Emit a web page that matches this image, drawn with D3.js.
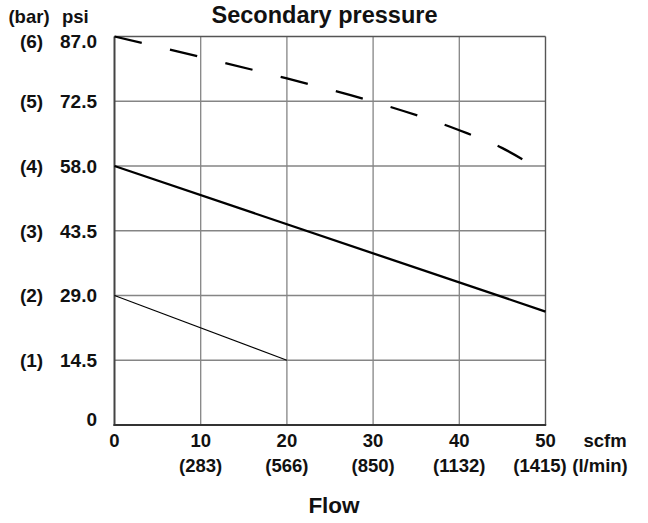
<!DOCTYPE html>
<html>
<head>
<meta charset="utf-8">
<script src="https://cdn.jsdelivr.net/npm/d3@7"></script>
<style>
  html, body { margin: 0; padding: 0; background: #fff; }
  svg { display: block; }
  text { font-family: "Liberation Sans", Arial, Helvetica, sans-serif; font-weight: bold; fill: #111; }
</style>
</head>
<body>
<svg id="chart" width="648" height="523"></svg>
<script>
// Flow axis ticks (scfm) with their l/min equivalents
const flowTicks = [0, 10, 20, 30, 40, 50];
const flowLmin = ["", "(283)", "(566)", "(850)", "(1132)", "(1415)"];

// Pressure axis ticks (psi) with their bar equivalents
const psiTicks = [0, 14.5, 29, 43.5, 58, 72.5, 87];
const barLabels = ["", "(1)", "(2)", "(3)", "(4)", "(5)", "(6)"];

// Secondary pressure curves: flow (scfm) vs pressure (psi)
const highFlow = [0, 10, 20, 30, 40, 45, 47.7];
const highPsi = [87, 82.4, 77.6, 72.4, 66.0, 62.0, 59.1];

const midFlow = [0, 50];
const midPsi = [58, 25.4];

const lowFlow = [0, 20];
const lowPsi = [29, 14.5];

const svg = d3.select("#chart");

const x = d3.scaleLinear().domain([0, 50]).range([114.5, 545.5]);
const y = d3.scaleLinear().domain([0, 87]).range([425, 36.5]);

// Grid
const grid = svg.append("g");
grid.selectAll("line.v").data(flowTicks.slice(1, -1)).join("line")
  .attr("x1", d => x(d)).attr("x2", d => x(d))
  .attr("y1", y(0)).attr("y2", y(87))
  .attr("stroke", "#858585").attr("stroke-width", 1.3);
grid.selectAll("line.h").data(psiTicks.slice(1, -1)).join("line")
  .attr("x1", x(0)).attr("x2", x(50))
  .attr("y1", d => y(d)).attr("y2", d => y(d))
  .attr("stroke", "#858585").attr("stroke-width", 1.3);

// Frame: top and right borders, then the heavier axis lines
svg.append("line").attr("x1", x(0)).attr("x2", x(50)).attr("y1", y(87)).attr("y2", y(87))
  .attr("stroke", "#555").attr("stroke-width", 1.4);
svg.append("line").attr("x1", x(50)).attr("x2", x(50)).attr("y1", y(0)).attr("y2", y(87))
  .attr("stroke", "#555").attr("stroke-width", 1.4);
svg.append("line").attr("x1", x(0)).attr("x2", x(0)).attr("y1", y(0) + 1).attr("y2", y(87))
  .attr("stroke", "#444").attr("stroke-width", 2);
svg.append("line").attr("x1", x(0) - 1).attr("x2", x(50) + 0.7).attr("y1", y(0)).attr("y2", y(0))
  .attr("stroke", "#333").attr("stroke-width", 2);

// Curves
const line = d3.line().x(d => x(d[0])).y(d => y(d[1]));
const zip = (a, b) => a.map((v, i) => [v, b[i]]);

svg.append("path").datum(zip(highFlow, highPsi))
  .attr("d", line.curve(d3.curveMonotoneX))
  .attr("fill", "none").attr("stroke", "#000").attr("stroke-width", 2.3)
  .attr("stroke-dasharray", "28,29");
svg.append("path").datum(zip(midFlow, midPsi))
  .attr("d", line.curve(d3.curveLinear))
  .attr("fill", "none").attr("stroke", "#000").attr("stroke-width", 2.3);
svg.append("path").datum(zip(lowFlow, lowPsi))
  .attr("d", line.curve(d3.curveLinear))
  .attr("fill", "none").attr("stroke", "#000").attr("stroke-width", 1.1);

// Y labels: bar column and psi column
const yLabelY = (d, i) => y(d) + (i === 0 ? -6 : i === psiTicks.length - 1 ? 4.5 : 0);
svg.selectAll("text.psi").data(psiTicks).join("text")
  .attr("x", 97).attr("y", (d, i) => yLabelY(d, i))
  .attr("dy", "0.36em").attr("text-anchor", "end").attr("font-size", 19)
  .text(d => d === 0 ? "0" : d.toFixed(1));
svg.selectAll("text.bar").data(psiTicks).join("text")
  .attr("x", 31.5).attr("y", (d, i) => yLabelY(d, i))
  .attr("dy", "0.36em").attr("text-anchor", "middle").attr("font-size", 19)
  .text((d, i) => barLabels[i]);
svg.append("text").attr("x", 29).attr("y", 23).attr("text-anchor", "middle")
  .attr("font-size", 18.5).text("(bar)");
svg.append("text").attr("x", 62).attr("y", 23).attr("text-anchor", "start")
  .attr("font-size", 18.5).text("psi");

// X labels: scfm row and l/min row
svg.selectAll("text.scfm").data(flowTicks).join("text")
  .attr("x", d => x(d)).attr("y", 447)
  .attr("text-anchor", "middle").attr("font-size", 18.5)
  .text(d => d);
svg.selectAll("text.lmin").data(flowTicks).join("text")
  .attr("x", (d, i) => x(d) + (i === flowTicks.length - 1 ? -5.5 : 0)).attr("y", 472)
  .attr("text-anchor", "middle").attr("font-size", 18.5)
  .text((d, i) => flowLmin[i]);
svg.append("text").attr("x", 605).attr("y", 447).attr("text-anchor", "middle")
  .attr("font-size", 18.5).text("scfm");
svg.append("text").attr("x", 600).attr("y", 472).attr("text-anchor", "middle")
  .attr("font-size", 18.5).text("(l/min)");

// Titles
svg.append("text").attr("x", 324.5).attr("y", 23).attr("text-anchor", "middle")
  .attr("font-size", 23.5).text("Secondary pressure");
svg.append("text").attr("x", 334).attr("y", 512.5).attr("text-anchor", "middle")
  .attr("font-size", 22.5).text("Flow");
</script>
</body>
</html>
